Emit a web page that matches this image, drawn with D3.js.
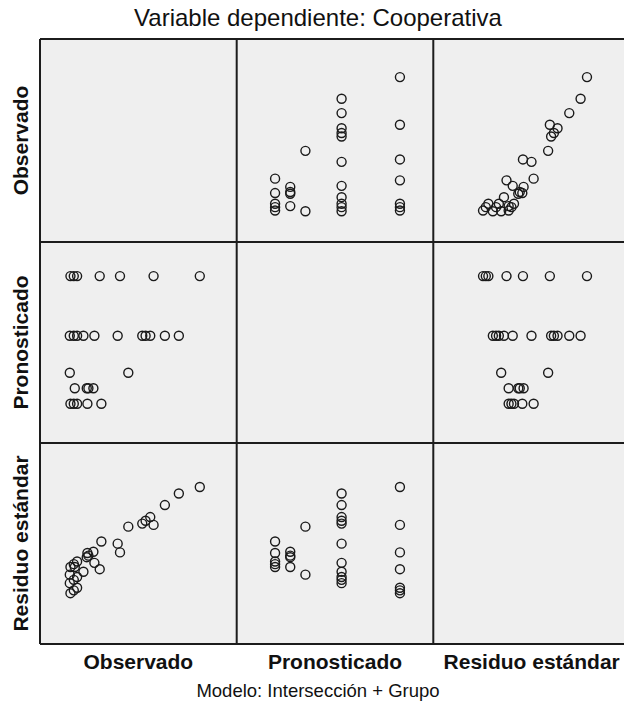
<!DOCTYPE html>
<html>
<head>
<meta charset="utf-8">
<script src="https://cdn.jsdelivr.net/npm/d3@7"></script>
<style>
  html, body { margin: 0; padding: 0; background: #ffffff; }
  svg { display: block; }
  text { font-family: "Liberation Sans", Arial, sans-serif; fill: #111; }
</style>
</head>
<body>
<div id="chart"></div>
<script>
// Variables shown in the scatterplot matrix (rows top→bottom, columns left→right)
const variables = ["Observado", "Pronosticado", "Residuo estándar"];

// One entry per case: observed score, model prediction, standardized residual
const observed = [
  3.2, 4.2, 5.2, 8.3, 12.5,
  4.5, 8.1, 8.6, 10.1,
  3.0, 20.6,
  3.0, 4.2, 5.2, 7.1, 10.4, 17.4, 24.8, 25.8, 27.2, 31.6, 35.8,
  3.2, 4.2, 5.2, 12.0, 18.1, 28.2, 42.1
];
const predicted = [
  6.7, 6.7, 6.7, 6.7, 6.7,
  8.0, 8.0, 8.0, 8.0,
  9.3, 9.3,
  12.4, 12.4, 12.4, 12.4, 12.4, 12.4, 12.4, 12.4, 12.4, 12.4, 12.4,
  17.4, 17.4, 17.4, 17.4, 17.4, 17.4, 17.4
];
const residual = [
  -0.44, -0.31, -0.19, 0.20, 0.73,
  -0.44, 0.01, 0.08, 0.26,
  -0.79, 1.41,
  -1.18, -1.03, -0.90, -0.66, -0.25, 0.63, 1.55, 1.68, 1.85, 2.40, 2.93,
  -1.64, -1.51, -1.39, -0.54, 0.23, 1.49, 3.23
];

const titleText = "Variable dependiente: Cooperativa";
const footText = "Modelo: Intersección + Grupo";

// Value range drawn for each variable inside a cell
const domains = [[-5.96, 53.2], [3.41, 20.26], [-3.97, 5.245]];
const series = [observed, predicted, residual];

const W = 624, H = 712;
const colEdges = [40, 236.7, 433.3, 630];
const rowEdges = [39, 242, 443, 644];

const svg = d3.select("#chart").append("svg")
  .attr("width", W).attr("height", H);

const cells = [];
for (let r = 0; r < 3; r++) {
  for (let c = 0; c < 3; c++) cells.push({ r, c });
}

// cell backgrounds
svg.append("g").selectAll("rect").data(cells).join("rect")
  .attr("x", d => colEdges[d.c])
  .attr("y", d => rowEdges[d.r])
  .attr("width", d => colEdges[d.c + 1] - colEdges[d.c])
  .attr("height", d => rowEdges[d.r + 1] - rowEdges[d.r])
  .attr("fill", "#efefef");

// points in the off-diagonal cells
cells.filter(d => d.r !== d.c).forEach(({ r, c }) => {
  const x = d3.scaleLinear().domain(domains[c]).range([colEdges[c], colEdges[c + 1]]);
  const y = d3.scaleLinear().domain(domains[r]).range([rowEdges[r + 1], rowEdges[r]]);
  const pts = d3.range(observed.length).map(i => [series[c][i], series[r][i]]);
  svg.append("g")
    .selectAll("circle").data(pts).join("circle")
    .attr("cx", d => x(d[0]))
    .attr("cy", d => y(d[1]))
    .attr("r", 4.5)
    .attr("fill", "none")
    .attr("stroke", "#1a1a1a")
    .attr("stroke-width", 1.4);
});

// grid frame
const frame = svg.append("g").attr("stroke", "#1c1c1c").attr("stroke-width", 2).attr("fill", "none");
frame.selectAll("line.v").data(colEdges).join("line").attr("class", "v")
  .attr("x1", d => d).attr("x2", d => d)
  .attr("y1", rowEdges[0]).attr("y2", rowEdges[3]);
frame.selectAll("line.h").data(rowEdges).join("line").attr("class", "h")
  .attr("y1", d => d).attr("y2", d => d)
  .attr("x1", colEdges[0]).attr("x2", colEdges[3]);

// title
svg.append("text")
  .attr("x", 318).attr("y", 26)
  .attr("text-anchor", "middle")
  .style("font-size", "24px")
  .text(titleText);

// column labels
svg.append("g").selectAll("text").data(variables).join("text")
  .attr("x", (d, i) => (colEdges[i] + colEdges[i + 1]) / 2)
  .attr("y", 669)
  .attr("text-anchor", "middle")
  .style("font-size", "21px").style("font-weight", "bold")
  .text(d => d);

// row labels
svg.append("g").selectAll("text").data(variables).join("text")
  .attr("transform", (d, i) => `translate(27.5,${(rowEdges[i] + rowEdges[i + 1]) / 2}) rotate(-90)`)
  .attr("text-anchor", "middle")
  .style("font-size", "21px").style("font-weight", "bold")
  .text(d => d);

// model footnote
svg.append("text")
  .attr("x", 318).attr("y", 697)
  .attr("text-anchor", "middle")
  .style("font-size", "18.5px")
  .text(footText);
</script>
</body>
</html>
